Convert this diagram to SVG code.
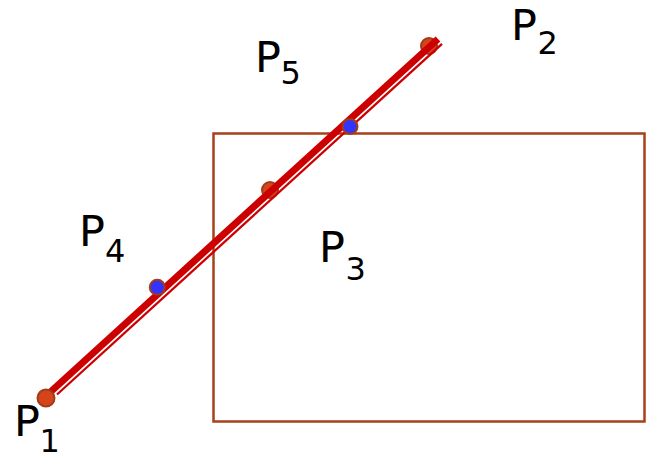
<svg xmlns="http://www.w3.org/2000/svg" width="646" height="456" viewBox="0 0 646 456">
  <style>
    .lbl { font-family: "DejaVu Sans", Verdana, sans-serif; font-size: 43px; fill: #000; }
    .sub { font-family: "DejaVu Sans", Verdana, sans-serif; font-size: 32px; fill: #000; }
    .pt-o { fill: #D4461A; stroke: #A33A18; stroke-width: 2; }
    .pt-b { fill: #3333FF; stroke: #A33A18; stroke-width: 2; }
    .seg { stroke: #CC0000; fill: none; }
  </style>
  <rect width="646" height="456" fill="#FFFFFF"/>
  <g id="window">
    <rect x="213.5" y="133.5" width="431" height="288" fill="none" stroke="#A8401C" stroke-width="2.5"/>
  </g>
  <g id="P2">
    <circle class="pt-o" cx="429" cy="46" r="8"/>
    <text class="lbl" x="511" y="40">P</text>
    <text class="sub" x="537.5" y="54">2</text>
  </g>
  <g id="P3">
    <circle class="pt-o" cx="270" cy="190" r="8"/>
    <text class="lbl" x="319" y="262">P</text>
    <text class="sub" x="345.5" y="280">3</text>
  </g>
  <g id="connectors">
    <line class="seg" x1="46" y1="396" x2="438" y2="39" stroke-width="7"/>
    <line class="seg" x1="57" y1="394.5" x2="442" y2="43.8" stroke-width="2.3"/>
  </g>
  <g id="P1">
    <circle class="pt-o" cx="46" cy="398" r="8.5"/>
    <text class="lbl" x="14" y="436">P</text>
    <text class="sub" x="39.5" y="452">1</text>
  </g>
  <g id="P4">
    <circle class="pt-b" cx="157.3" cy="287.3" r="7.5"/>
    <text class="lbl" x="79" y="246">P</text>
    <text class="sub" x="105" y="262">4</text>
  </g>
  <g id="P5">
    <circle class="pt-b" cx="350" cy="126.5" r="7.5"/>
    <text class="lbl" x="255" y="72">P</text>
    <text class="sub" x="280.5" y="84">5</text>
  </g>
</svg>
